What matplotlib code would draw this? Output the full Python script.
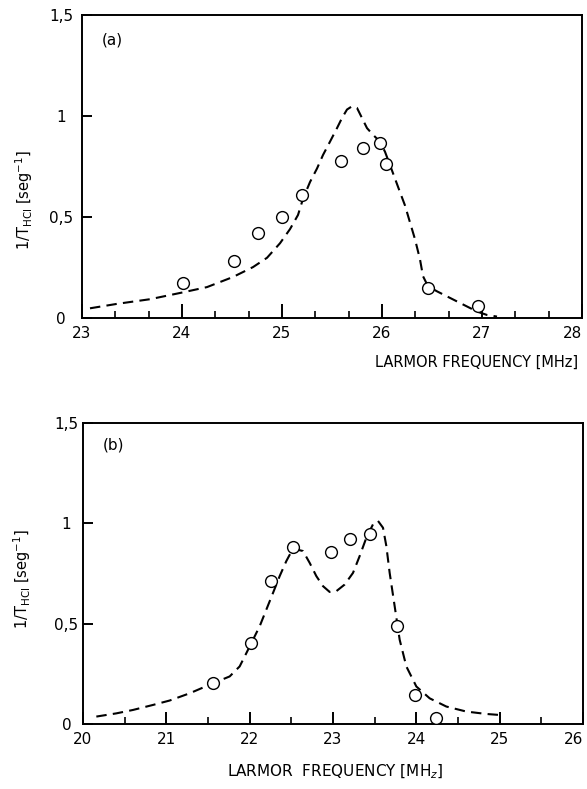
import numpy as np
import matplotlib
matplotlib.use("Agg")
import matplotlib.pyplot as plt
from matplotlib.ticker import MultipleLocator, FixedLocator, FuncFormatter

# ---------------- data: panel (a) ----------------
a_pts_x = [24.01, 24.52, 24.76, 25.0, 25.2, 25.59, 25.81, 25.98, 26.04, 26.46, 26.96]
a_pts_y = [0.175, 0.28, 0.42, 0.50, 0.61, 0.775, 0.84, 0.865, 0.76, 0.15, 0.06]
a_curve_x = [23.08, 23.35, 23.68, 24.01, 24.25, 24.51, 24.71, 24.85, 24.98, 25.08,
             25.16, 25.21, 25.28, 25.35, 25.41, 25.48, 25.55, 25.60, 25.65, 25.70,
             25.75, 25.80, 25.85, 25.91, 25.98, 26.03, 26.08, 26.13, 26.18, 26.23,
             26.28, 26.33, 26.38, 26.41, 26.46, 26.55, 26.65, 26.75, 26.85, 26.95,
             27.05, 27.15]
a_curve_y = [0.048, 0.07, 0.093, 0.127, 0.153, 0.203, 0.252, 0.298, 0.37, 0.44,
             0.51, 0.59, 0.673, 0.74, 0.807, 0.873, 0.94, 0.99, 1.032, 1.048,
             1.04, 0.99, 0.94, 0.907, 0.873, 0.823, 0.757, 0.69, 0.623, 0.557,
             0.473, 0.39, 0.29, 0.207, 0.157, 0.132, 0.107, 0.082, 0.057, 0.032,
             0.015, 0.007]

# ---------------- data: panel (b) ----------------
b_pts_x = [21.56, 22.01, 22.26, 22.52, 22.97, 23.2, 23.44, 23.77, 23.98, 24.24]
b_pts_y = [0.205, 0.405, 0.715, 0.88, 0.855, 0.92, 0.945, 0.49, 0.145, 0.03]
b_curve_x = [20.16, 20.40, 20.60, 20.84, 21.04, 21.28, 21.56, 21.76, 21.88, 21.96,
             22.04, 22.12, 22.20, 22.28, 22.36, 22.44, 22.52, 22.64, 22.72, 22.80,
             22.88, 22.96, 23.04, 23.14, 23.24, 23.32, 23.40, 23.48, 23.54, 23.60,
             23.64, 23.68, 23.74, 23.80, 23.88, 24.00, 24.16, 24.36, 24.60, 24.84,
             25.00]
b_curve_y = [0.037, 0.053, 0.07, 0.095, 0.117, 0.153, 0.203, 0.237, 0.287, 0.353,
             0.42, 0.487, 0.57, 0.653, 0.737, 0.812, 0.874, 0.862, 0.803, 0.737,
             0.687, 0.658, 0.662, 0.695, 0.753, 0.837, 0.928, 0.995, 1.012, 0.978,
             0.887, 0.753, 0.587, 0.42, 0.287, 0.187, 0.128, 0.087, 0.062, 0.05,
             0.045]

a_xticks = [23, 24, 25, 26, 27, 28]
b_xticks = [20, 21, 22, 23, 24, 25, 26]
yticks = [0, 0.5, 1, 1.5]

plt.rcParams['font.family'] = ['DejaVu Sans']

fig = plt.figure(figsize=(5.87, 7.89), dpi=100)
W, H = 587, 789

def px_axes(l, t, r, b):
    return fig.add_axes([l / W, 1 - b / H, (r - l) / W, (b - t) / H])

ax1 = px_axes(82, 15, 582, 318)
ax2 = px_axes(83, 423, 583, 724)

def fmt(v, pos):
    if abs(v - round(v)) < 1e-9:
        return str(int(round(v)))
    return ("%g" % v).replace('.', ',')

def style(ax, xlim, xticks, minor_step, major_len, ypad):
    ax.set_xlim(*xlim)
    ax.set_ylim(0, 1.5)
    for s in ax.spines.values():
        s.set_linewidth(1.4)
    ax.xaxis.set_major_locator(FixedLocator(xticks))
    ax.xaxis.set_minor_locator(MultipleLocator(minor_step))
    ax.yaxis.set_major_locator(FixedLocator(yticks))
    ax.yaxis.set_major_formatter(FuncFormatter(fmt))
    ax.tick_params(axis='x', which='major', direction='in', length=major_len,
                   width=1.4, labelsize=11, pad=6, top=False)
    ax.tick_params(axis='x', which='minor', direction='in', length=5,
                   width=1.2, top=False)
    ax.tick_params(axis='y', which='major', direction='in', length=7,
                   width=1.4, labelsize=11, pad=ypad, right=False)
    for lab in ax.get_yticklabels():
        lab.set_horizontalalignment('center')
    # keep the last x tick label inside the figure
    fig.canvas.draw()
    labs = ax.get_xticklabels()
    labs[-1].set_horizontalalignment('right')

line_kw = dict(color='black', lw=1.5, linestyle=(0, (5, 3)),
               dash_joinstyle='round', dash_capstyle='butt')
pt_kw = dict(marker='o', linestyle='none', ms=8.5, mfc='white', mec='black',
             mew=1.0, zorder=3)

# panel (a)
ax1.plot(a_curve_x, a_curve_y, **line_kw)
ax1.plot(a_pts_x, a_pts_y, **pt_kw)
style(ax1, (23, 28), a_xticks, 1/3, 10, 15)

# panel (b)
ax2.plot(b_curve_x, b_curve_y, **line_kw)
ax2.plot(b_pts_x, b_pts_y, **pt_kw)
style(ax2, (20, 26), b_xticks, 0.5, 9, 12)

# labels in figure-pixel placement
def ftext(x, y, s, **kw):
    fig.text(x / W, 1 - y / H, s, **kw)

ftext(102, 40, '(a)', fontsize=11, va='center', ha='left')
ftext(103, 445, '(b)', fontsize=11, va='center', ha='left')
ftext(578, 362, 'LARMOR FREQUENCY [MHz]', fontsize=10.5, ha='right', va='center')
ftext(335, 772, 'LARMOR  FREQUENCY [MH$_z$]', fontsize=11, ha='center', va='center')
ftext(24, 200, r'1/T$_{\mathrm{HCl}}$ [seg$^{-1}$]', fontsize=10.5, rotation=90,
      ha='center', va='center')
ftext(22, 579, r'1/T$_{\mathrm{HCl}}$ [seg$^{-1}$]', fontsize=10.5, rotation=90,
      ha='center', va='center')

fig.savefig('out.png', dpi=100)
